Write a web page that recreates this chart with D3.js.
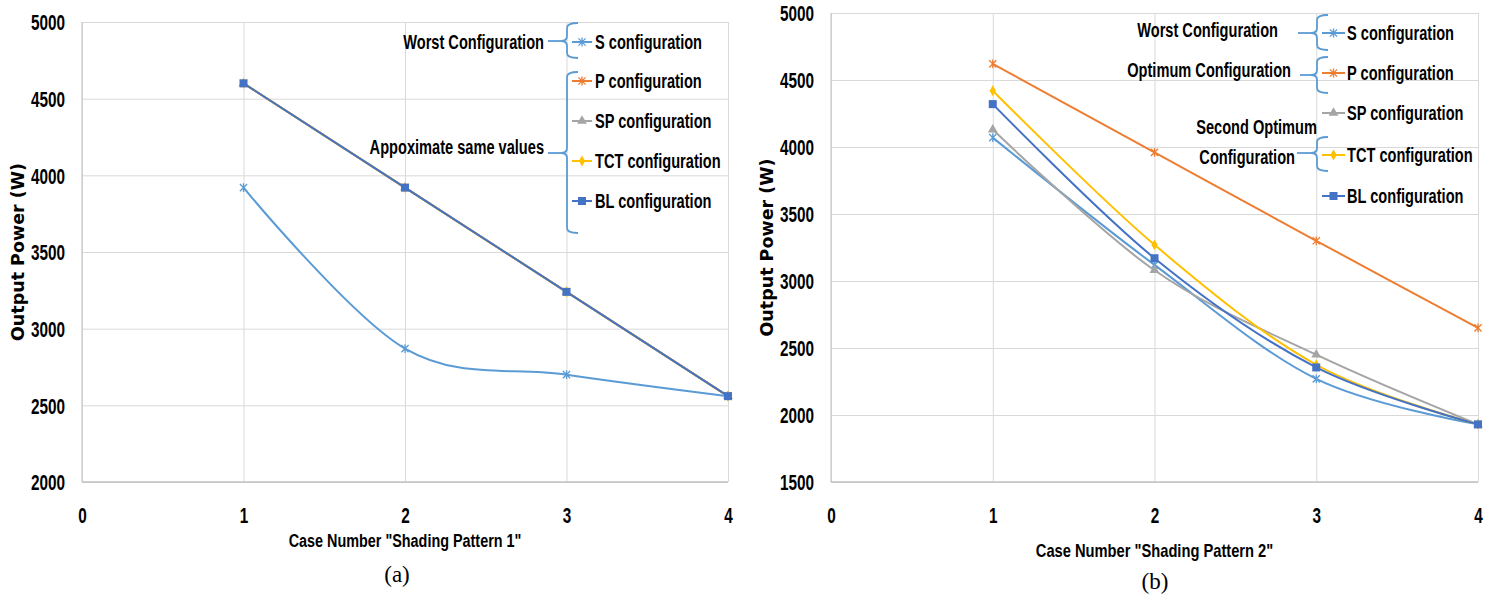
<!DOCTYPE html>
<html>
<head>
<meta charset="utf-8">
<script src="https://cdn.jsdelivr.net/npm/d3@7"></script>
<style>
  body { margin: 0; background: #fff; }
  svg { display: block; }
</style>
</head>
<body>
<svg id="chart" width="1496" height="598"></svg>
<script>
// ---- data -------------------------------------------------------------
const cases = [1, 2, 3, 4];
const xTicks = [0, 1, 2, 3, 4];
const seriesNames = ["S configuration", "P configuration", "SP configuration", "TCT configuration", "BL configuration"];
const seriesColors = ["#5B9BD5", "#ED7D31", "#A5A5A5", "#FFC000", "#4472C4"];
const seriesMarkers = ["star", "star", "triangle", "diamond", "square"];

// Shading pattern 1 (output power, W)
const p1S   = [3920, 2870, 2700, 2560];
const p1P   = [4600, 3920, 3240, 2560];
const p1SP  = [4600, 3920, 3240, 2560];
const p1TCT = [4600, 3920, 3240, 2560];
const p1BL  = [4600, 3920, 3240, 2560];
const p1YTicks = [2000, 2500, 3000, 3500, 4000, 4500, 5000];
const p1Title = 'Case Number "Shading Pattern 1"';
const p1Notes = ["Worst Configuration", "Appoximate same values"];

// Shading pattern 2 (output power, W)
const p2S   = [4070, 3120, 2270, 1930];
const p2P   = [4620, 3960, 3300, 2650];
const p2SP  = [4130, 3080, 2450, 1930];
const p2TCT = [4420, 3270, 2375, 1930];
const p2BL  = [4320, 3170, 2355, 1930];
const p2YTicks = [1500, 2000, 2500, 3000, 3500, 4000, 4500, 5000];
const p2Title = 'Case Number "Shading Pattern 2"';
const p2Notes = ["Worst Configuration", "Optimum Configuration", "Second Optimum", "Configuration"];

const yTitle = "Output Power (W)";
const captions = ["(a)", "(b)"];

// ---- helpers ----------------------------------------------------------
const svg = d3.select("#chart");
const LABEL_FONT = "'Liberation Sans', Arial, sans-serif";
const TALL = 1.42;

// stretch text vertically about its anchor point (tall, narrow label face)
function tall(sel, k) {
  sel.each(function () {
    const x = +(this.getAttribute("x") || 0);
    const y = +(this.getAttribute("y") || 0);
    this.setAttribute("x", 0);
    this.setAttribute("y", 0);
    this.setAttribute("transform", `translate(${x},${y}) scale(1,${k})`);
  });
}

function drawMarker(g, type, color) {
  if (type === "star") {
    const s = 3.6;
    g.append("path")
      .attr("d", `M${-s},${-s}L${s},${s}M${-s},${s}L${s},${-s}M0,${-s - 0.8}L0,${s + 0.8}`)
      .attr("stroke", color).attr("stroke-width", 1.3).attr("fill", "none");
  } else if (type === "square") {
    g.append("rect").attr("x", -4).attr("y", -4).attr("width", 8).attr("height", 8).attr("fill", color);
  } else if (type === "triangle") {
    g.append("path").attr("d", d3.symbol(d3.symbolTriangle, 42)()).attr("fill", color);
  } else if (type === "diamond") {
    g.append("path").attr("d", d3.symbol(d3.symbolDiamond, 34)()).attr("fill", color);
  }
}

function bracePath(xSpine, top, bottom, tipY, xTip, xEnd) {
  const r = 5;
  return `M${xEnd},${top} Q${xSpine},${top} ${xSpine},${top + r}` +
         ` L${xSpine},${tipY - r} Q${xSpine},${tipY} ${xTip},${tipY}` +
         ` Q${xSpine},${tipY} ${xSpine},${tipY + r}` +
         ` L${xSpine},${bottom - r} Q${xSpine},${bottom} ${xEnd},${bottom}`;
}

// ---- panel drawing ----------------------------------------------------
function drawPanel(p) {
  const x = d3.scaleLinear().domain([0, 4]).range(p.xr);
  const y = d3.scaleLinear().domain(p.yDom).range(p.yr);
  const w = p.xr[1] - p.xr[0];
  const h = p.yr[0] - p.yr[1];
  const g = svg.append("g");

  // horizontal grid + y tick labels
  const ya = g.append("g").attr("transform", `translate(${p.xr[0]},0)`)
    .call(d3.axisLeft(y).tickValues(p.yTicks).tickSize(-w).tickPadding(17).tickFormat(d3.format("d")));
  ya.select(".domain").remove();
  ya.selectAll(".tick line").attr("stroke", "#d9d9d9").attr("stroke-width", 1);
  ya.selectAll(".tick text").attr("dy", "0.36em").attr("font-family", LABEL_FONT).attr("font-weight", "bold")
    .attr("font-size", 15.3).attr("fill", "#000").call(tall, TALL);

  // vertical grid + x tick labels
  const xa = g.append("g").attr("transform", `translate(0,${p.yr[0]})`)
    .call(d3.axisBottom(x).tickValues(xTicks).tickSize(-h).tickFormat(d3.format("d")));
  xa.select(".domain").remove();
  xa.selectAll(".tick line").attr("stroke", "#d9d9d9").attr("stroke-width", 1);
  xa.selectAll(".tick text").attr("y", 33).attr("dy", "0.36em")
    .attr("font-family", LABEL_FONT).attr("font-weight", "bold")
    .attr("font-size", 15.3).attr("fill", "#000").call(tall, TALL);

  // plot frame lines (left / bottom)
  g.append("line").attr("x1", p.xr[0]).attr("x2", p.xr[0]).attr("y1", p.yr[1]).attr("y2", p.yr[0])
    .attr("stroke", "#c8c8c8").attr("stroke-width", 1.2);
  g.append("line").attr("x1", p.xr[0]).attr("x2", p.xr[1]).attr("y1", p.yr[0]).attr("y2", p.yr[0])
    .attr("stroke", "#c0c0c0").attr("stroke-width", 1.5);

  // series
  p.series.forEach((vals, i) => {
    const line = d3.line()
      .x((d, j) => x(cases[j]))
      .y(d => y(d))
      .curve(p.smooth[i] ? d3.curveCatmullRom.alpha(0) : d3.curveLinear);
    g.append("path").datum(vals).attr("d", line)
      .attr("fill", "none").attr("stroke", seriesColors[i])
      .attr("stroke-width", 2).attr("stroke-linejoin", "round");
    vals.forEach((v, j) => {
      const m = g.append("g").attr("transform", `translate(${x(cases[j])},${y(v)})`);
      drawMarker(m, seriesMarkers[i], seriesColors[i]);
    });
  });

  // legend
  const lg = g.append("g");
  seriesNames.forEach((name, i) => {
    const yy = p.legendY[i];
    lg.append("line").attr("x1", p.legendX[0]).attr("x2", p.legendX[1]).attr("y1", yy).attr("y2", yy)
      .attr("stroke", seriesColors[i]).attr("stroke-width", 2);
    const m = lg.append("g").attr("transform", `translate(${(p.legendX[0] + p.legendX[1]) / 2},${yy})`);
    drawMarker(m, seriesMarkers[i], seriesColors[i]);
    lg.append("text").attr("x", p.legendX[2]).attr("y", yy).attr("dy", "0.36em")
      .attr("font-family", LABEL_FONT).attr("font-weight", "bold").attr("font-size", 14.6)
      .text(name).call(tall, TALL);
  });

  // annotation braces
  p.braces.forEach(b => {
    g.append("path").attr("d", bracePath(b.spine, b.top, b.bottom, b.tip, b.tipX, b.end))
      .attr("fill", "none").attr("stroke", "#5B9BD5").attr("stroke-width", 1.8);
    g.append("line").attr("x1", b.from).attr("x2", b.tipX).attr("y1", b.tip).attr("y2", b.tip)
      .attr("stroke", "#5B9BD5").attr("stroke-width", 1.8);
  });
  p.notes.forEach(n => {
    g.append("text").attr("x", n.x).attr("y", n.y).attr("dy", "0.36em").attr("text-anchor", "end")
      .attr("font-family", LABEL_FONT).attr("font-weight", "bold").attr("font-size", 14.6)
      .text(n.text).call(tall, TALL);
  });

  // axis titles
  g.append("text").attr("x", (p.xr[0] + p.xr[1]) / 2).attr("y", p.xTitleY).attr("dy", "0.36em")
    .attr("text-anchor", "middle").attr("font-family", LABEL_FONT).attr("font-weight", "bold")
    .attr("font-size", p.xTitleSize).text(p.xTitle).call(tall, 1.22);
  const cy = (p.yr[0] + p.yr[1]) / 2;
  g.append("text").attr("transform", `translate(${p.yTitleX},${cy}) rotate(-90)`).attr("dy", "0.35em")
    .attr("text-anchor", "middle").attr("font-family", "'DejaVu Sans', sans-serif").attr("font-weight", "bold")
    .attr("font-size", 17.5).text(yTitle);

  // caption
  g.append("text").attr("x", p.capX).attr("y", p.capY).attr("dy", "0.35em").attr("text-anchor", "middle")
    .attr("font-family", "'Liberation Serif', 'Times New Roman', serif").attr("font-size", 23)
    .text(p.caption);
}

drawPanel({
  xr: [82, 728], yr: [482, 22], yDom: [2000, 5000], yTicks: p1YTicks,
  series: [p1S, p1P, p1SP, p1TCT, p1BL], smooth: [true, false, false, false, false],
  legendX: [572, 592, 595], legendY: [42, 81, 121, 161, 201],
  braces: [
    { spine: 567, top: 23, bottom: 58, tip: 41, tipX: 561, end: 578, from: 548 },
    { spine: 567, top: 72, bottom: 233, tip: 153, tipX: 561, end: 578, from: 548 }
  ],
  notes: [
    { text: p1Notes[0], x: 544, y: 42 },
    { text: p1Notes[1], x: 544, y: 147 }
  ],
  xTitle: p1Title, xTitleY: 541, xTitleSize: 14.4, yTitleX: 18,
  caption: captions[0], capX: 397, capY: 574
});

drawPanel({
  xr: [831, 1478], yr: [482, 13], yDom: [1500, 5000], yTicks: p2YTicks,
  series: [p2S, p2P, p2SP, p2TCT, p2BL], smooth: [true, true, true, true, true],
  legendX: [1322, 1345, 1347], legendY: [33, 73, 113, 155, 196],
  braces: [
    { spine: 1317, top: 15, bottom: 50, tip: 33, tipX: 1311, end: 1328, from: 1298 },
    { spine: 1317, top: 57, bottom: 93, tip: 75, tipX: 1311, end: 1328, from: 1300 },
    { spine: 1317, top: 137, bottom: 171, tip: 153, tipX: 1311, end: 1328, from: 1297 }
  ],
  notes: [
    { text: p2Notes[0], x: 1278, y: 30 },
    { text: p2Notes[1], x: 1291, y: 70 },
    { text: p2Notes[2], x: 1317, y: 127 },
    { text: p2Notes[3], x: 1295, y: 157 }
  ],
  xTitle: p2Title, xTitleY: 551, xTitleSize: 14.7, yTitleX: 767,
  caption: captions[1], capX: 1155, capY: 581
});
</script>
</body>
</html>
